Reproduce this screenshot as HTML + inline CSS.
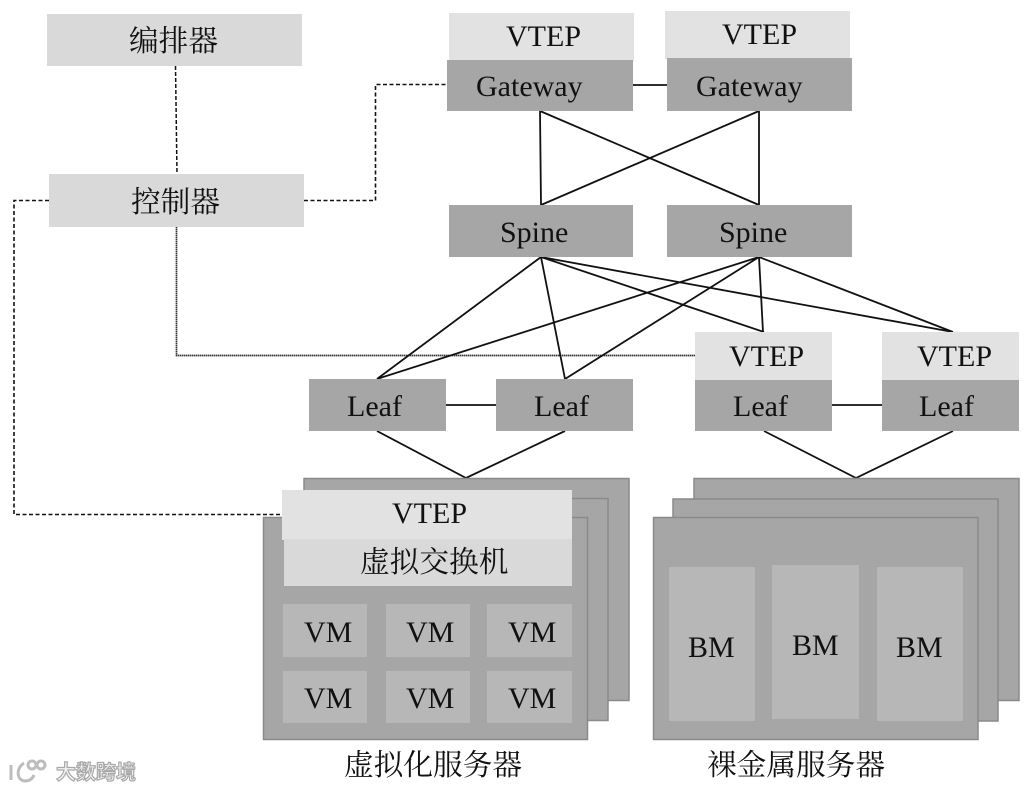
<!DOCTYPE html>
<html><head><meta charset="utf-8"><style>
html,body{margin:0;padding:0;background:#fff}
svg{display:block}
text{font-family:"Liberation Serif","Noto Serif CJK SC",serif;font-size:30px;fill:#111}
.c{font-size:29.7px}
.d{fill:#a6a6a6}.l{fill:#e2e2e2}.m{fill:#d9d9d9}.v{fill:#b7b7b7}
.s{fill:#a6a6a6;stroke:#8a8a8a;stroke-width:1.5}
.k{stroke:#111;stroke-width:1.8;fill:none}
.w{font-family:"Liberation Sans","Noto Sans CJK SC",sans-serif;font-size:20px;font-weight:700;fill:#f4f4f4;stroke:#a8a8a8;stroke-width:1.2px}
</style></head><body>
<svg width="1034" height="790" viewBox="0 0 1034 790" xmlns="http://www.w3.org/2000/svg">
<rect width="1034" height="790" fill="#fff"/>
<!-- dashed connectors -->
<path d="M175.500 66L177 174" fill="none" stroke="#111" stroke-width="1.500" stroke-dasharray="4 2"/>
<path d="M304 200.500H375.500V84.500H447" fill="none" stroke="#111" stroke-width="1.600" stroke-dasharray="4 2.500"/>
<path d="M49 200.500H14V514.500H283" fill="none" stroke="#111" stroke-width="1.600" stroke-dasharray="4 2.500"/>
<path d="M176.500 227V355.500H696" fill="none" stroke="#333" stroke-width="1.700" stroke-dasharray="1.500 .5"/>
<!-- solid connectors -->
<path class="k" d="M633 85H667M446 405H496M832 405H882
M540 111L541 205M540 111L759 205M759 111V205M759 111L541 205
M541 257L377 379M759 257L377 379M541 257L565 379M759 257L565 379
M541 257L764 332M759 257L763 332M541 257L953 332M759 257L953 332
M377 431L466 478L565 431M764 431L856 478L953 431"/>
<!-- controllers -->
<rect class="m" x="47" y="14" width="255" height="52"/>
<rect class="m" x="49" y="174" width="255" height="53"/>
<text class="c" x="129" y="51">编排器</text>
<text class="c" x="131" y="212">控制器</text>
<!-- gateways -->
<rect class="l" x="449" y="13" width="185" height="48"/>
<rect class="d" x="447" y="60" width="186" height="51"/>
<rect class="l" x="665" y="11" width="185" height="48"/>
<rect class="d" x="667" y="58" width="185" height="53"/>
<text x="506" y="46">VTEP</text>
<text x="722" y="44">VTEP</text>
<text x="476" y="96">Gateway</text>
<text x="696" y="96">Gateway</text>
<!-- spines -->
<rect class="d" x="449" y="205" width="184" height="52"/>
<rect class="d" x="667" y="205" width="185" height="52"/>
<text x="500" y="242">Spine</text>
<text x="719" y="242">Spine</text>
<!-- leaves -->
<rect class="d" x="309" y="379" width="137" height="52"/>
<rect class="d" x="496" y="379" width="137" height="52"/>
<rect class="l" x="695" y="332" width="137" height="49"/>
<rect class="d" x="695" y="380" width="137" height="51"/>
<rect class="l" x="882" y="332" width="137" height="49"/>
<rect class="d" x="882" y="380" width="137" height="51"/>
<text x="347" y="416">Leaf</text>
<text x="534" y="416">Leaf</text>
<text x="729" y="366">VTEP</text>
<text x="917" y="366">VTEP</text>
<text x="733" y="416">Leaf</text>
<text x="919" y="416">Leaf</text>
<!-- virtual servers -->
<rect class="s" x="304" y="478.500" width="325" height="222"/>
<rect class="s" x="284" y="498.500" width="324" height="222"/>
<rect class="s" x="263.500" y="517.500" width="324" height="222"/>
<rect class="l" x="282" y="490" width="290" height="50"/>
<rect class="m" x="284" y="539" width="288" height="47"/>
<text x="392" y="523">VTEP</text>
<text class="c" x="360" y="572">虚拟交换机</text>
<rect class="v" x="283" y="604" width="84" height="53"/>
<rect class="v" x="386" y="604" width="84" height="53"/>
<rect class="v" x="487" y="604" width="85" height="53"/>
<rect class="v" x="283" y="671" width="84" height="52"/>
<rect class="v" x="386" y="671" width="84" height="52"/>
<rect class="v" x="487" y="671" width="85" height="52"/>
<text x="304" y="642">VM</text>
<text x="406" y="642">VM</text>
<text x="508" y="642">VM</text>
<text x="304" y="708">VM</text>
<text x="406" y="708">VM</text>
<text x="508" y="708">VM</text>
<text class="c" x="344" y="775">虚拟化服务器</text>
<!-- bare metal -->
<rect class="s" x="694" y="478.500" width="325" height="222"/>
<rect class="s" x="673" y="499" width="325" height="222"/>
<rect class="s" x="653.500" y="517.500" width="324.500" height="222"/>
<rect class="v" x="669" y="567" width="86" height="154"/>
<rect class="v" x="772" y="565" width="87" height="154"/>
<rect class="v" x="877" y="567" width="86" height="154"/>
<text x="688" y="657">BM</text>
<text x="792" y="655">BM</text>
<text x="896" y="657">BM</text>
<text class="c" x="707" y="775">裸金属服务器</text>
<!-- watermark -->
<g fill="none" stroke="#bdbdbd" stroke-width="3">
<path d="M11 765V780M24 763C16 768 16 780 25 781C30 781 33 778 34 775"/>
<circle cx="32" cy="765" r="4"/><circle cx="41" cy="765" r="4"/>
</g>
<text class="w" x="56" y="779">大数跨境</text>
</svg>
</body></html>
